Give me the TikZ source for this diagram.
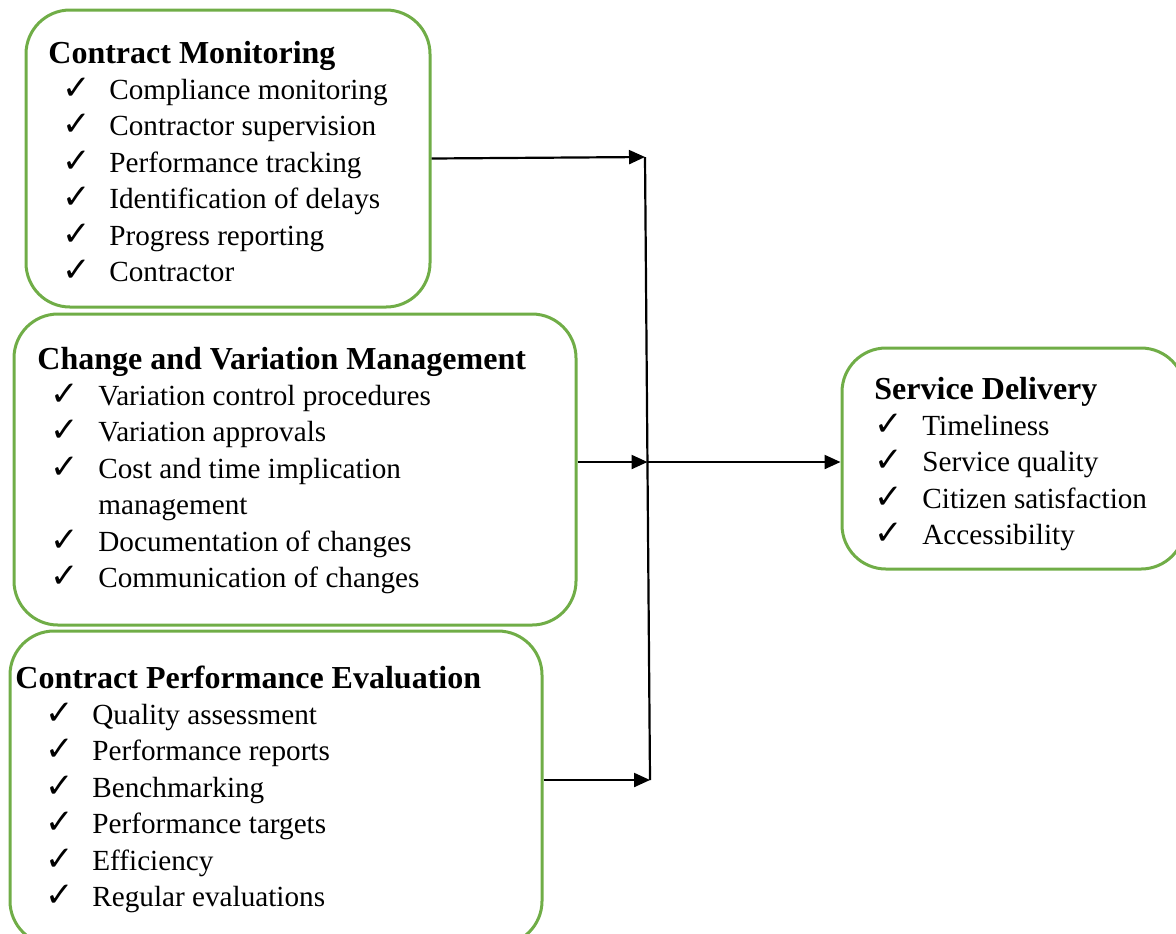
\documentclass[tikz,border=0pt]{standalone}
\usepackage{fontspec}
\setmainfont{Liberation Serif}
\newfontfamily\symfont{DejaVu Sans}
\usetikzlibrary{arrows.meta,positioning}

\definecolor{boxgreen}{RGB}{112,173,71}
\newcommand{\chk}{{\symfont\fontsize{17}{18.2}\selectfont ✓}}
\newcommand{\grouptitle}[1]{\fontsize{16}{18.2}\selectfont\bfseries #1}

\begin{document}
\begin{tikzpicture}[
  x=0.5pt, y=-0.5pt,
  group/.style={
    draw=boxgreen,
    line width=1.5pt,
    rounded corners=22pt,
    inner sep=0pt
  },
  items/.style={
    anchor=base west,
    inner sep=0pt,
    font=\fontsize{14.6}{18.2}\selectfont
  },
  arrow/.style={
    -{Triangle[length=8pt,width=7pt]},
    line width=1.1pt
  }
]
\useasboundingbox (0,0) rectangle (1176,933);

% Boxes
\node[group, minimum width=202pt, minimum height=148.5pt] (cm) at (228,158.5) {};
\node[group, minimum width=281pt, minimum height=155.5pt] (cvm) at (295,469.5) {};
\node[group, minimum width=266pt, minimum height=157pt] (cpe) at (276,788) {};
\node[group, minimum width=171.5pt, minimum height=110.5pt] (sd) at (1013.5,458.5) {};

% Contract monitoring
\node[items] (cmtext) at (48,63) {%
  \begin{tabular}[t]{@{\hspace{7pt}}p{23.5pt}@{}l@{}}
    \multicolumn{2}{@{}l@{}}{\grouptitle{Contract Monitoring}}\\
    \chk & Compliance monitoring\\
    \chk & Contractor supervision\\
    \chk & Performance tracking\\
    \chk & Identification of delays\\
    \chk & Progress reporting\\
    \chk & Contractor
  \end{tabular}};

% Change and variation management
\node[items] (cvmtext) at (37,369) {%
  \begin{tabular}[t]{@{\hspace{6.5pt}}p{24pt}@{}l@{}}
    \multicolumn{2}{@{}l@{}}{\grouptitle{Change and Variation Management}}\\
    \chk & Variation control procedures\\
    \chk & Variation approvals\\
    \chk & Cost and time implication\\
         & management\\
    \chk & Documentation of changes\\
    \chk & Communication of changes
  \end{tabular}};

% Contract performance evaluation
\node[items] (cpetext) at (15,688) {%
  \begin{tabular}[t]{@{\hspace{15pt}}p{23.5pt}@{}l@{}}
    \multicolumn{2}{@{}l@{}}{\grouptitle{Contract Performance Evaluation}}\\
    \chk & Quality assessment\\
    \chk & Performance reports\\
    \chk & Benchmarking\\
    \chk & Performance targets\\
    \chk & Efficiency\\
    \chk & Regular evaluations
  \end{tabular}};

% Service delivery
\node[items] (sdtext) at (874,399) {%
  \begin{tabular}[t]{@{\hspace{0pt}}p{24pt}@{}l@{}}
    \multicolumn{2}{@{}l@{}}{\grouptitle{Service Delivery}}\\
    \chk & Timeliness\\
    \chk & Service quality\\
    \chk & Citizen satisfaction\\
    \chk & Accessibility
  \end{tabular}};

% Joining line
\coordinate (jtop) at (645,157);
\coordinate (jmid) at (647.5,462);
\coordinate (jbot) at (650,780);
\draw[line width=1.1pt] (jtop) -- (jbot);

% Connectors
\draw[arrow] (cm.east) -- (jtop);
\draw[arrow] (cvm.east |- jmid) -- (jmid);
\draw[arrow] (cpe.east |- jbot) -- (jbot);
\draw[arrow] (jmid) -- (sd.west |- jmid);

\end{tikzpicture}
\end{document}
